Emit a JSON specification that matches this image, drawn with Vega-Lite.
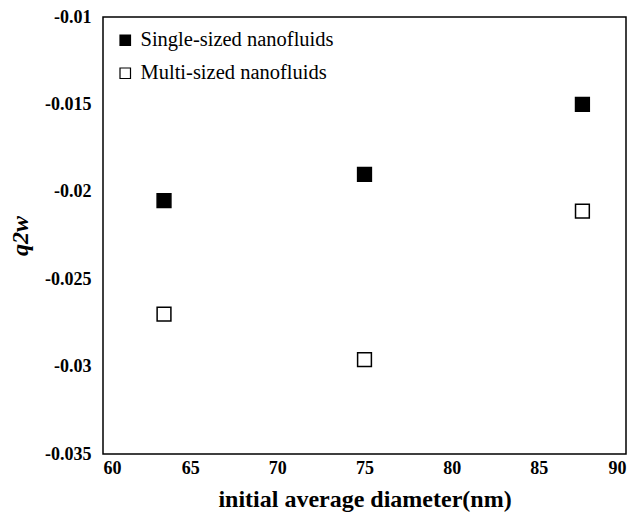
{
  "$schema": "https://vega.github.io/schema/vega-lite/v6.json",
  "width": 523,
  "height": 437,
  "autosize": {"type": "none"},
  "padding": {"left": 103, "top": 17, "right": 18, "bottom": 59},
  "background": "white",
  "config": {
    "view": {"stroke": "black", "strokeWidth": 1.5},
    "font": "Liberation Serif, Times New Roman, serif"
  },
  "data": {
    "values": [
      {"d": 63.5, "q": -0.0205, "series": "Single-sized nanofluids"},
      {"d": 75, "q": -0.019, "series": "Single-sized nanofluids"},
      {"d": 87.5, "q": -0.015, "series": "Single-sized nanofluids"},
      {"d": 63.5, "q": -0.027, "series": "Multi-sized nanofluids"},
      {"d": 75, "q": -0.0296, "series": "Multi-sized nanofluids"},
      {"d": 87.5, "q": -0.0211, "series": "Multi-sized nanofluids"}
    ]
  },
  "mark": {"type": "point", "shape": "square", "filled": true, "size": 190, "stroke": "black", "strokeWidth": 1.5, "opacity": 1},
  "encoding": {
    "x": {
      "field": "d", "type": "quantitative",
      "scale": {"domain": [60, 90], "nice": false, "zero": false},
      "axis": {
        "values": [60, 65, 70, 75, 80, 85, 90],
        "title": "initial average diameter(nm)",
        "titleFont": "Liberation Serif, serif", "titleFontSize": 24, "titleFontWeight": "bold", "titleColor": "black", "titlePadding": 10,
        "labelFont": "Liberation Serif, serif", "labelFontSize": 18, "labelFontWeight": "bold", "labelColor": "black",
        "domain": false, "ticks": false, "grid": false, "labelPadding": 5
      }
    },
    "y": {
      "field": "q", "type": "quantitative",
      "scale": {"domain": [-0.035, -0.01], "nice": false, "zero": false},
      "axis": {
        "values": [-0.035, -0.03, -0.025, -0.02, -0.015, -0.01],
        "labelExpr": "'' + datum.value",
        "title": "q2w",
        "titleFont": "Liberation Serif, serif", "titleFontSize": 24, "titleFontWeight": "bold", "titleFontStyle": "italic", "titleColor": "black", "titlePadding": 12,
        "labelFont": "Liberation Serif, serif", "labelFontSize": 18, "labelFontWeight": "bold", "labelColor": "black",
        "domain": false, "ticks": false, "grid": false, "labelPadding": 12
      }
    },
    "fill": {
      "field": "series", "type": "nominal",
      "scale": {"domain": ["Single-sized nanofluids", "Multi-sized nanofluids"], "range": ["black", "white"]},
      "legend": {
        "title": null, "orient": "none", "legendX": 12, "legendY": 13,
        "symbolType": "square", "symbolSize": 110, "symbolStrokeColor": "black", "symbolStrokeWidth": 1.2,
        "labelFont": "Liberation Serif, serif", "labelFontSize": 20.5, "labelColor": "black", "labelLimit": 400,
        "rowPadding": 12, "labelOffset": 5
      }
    }
  }
}
